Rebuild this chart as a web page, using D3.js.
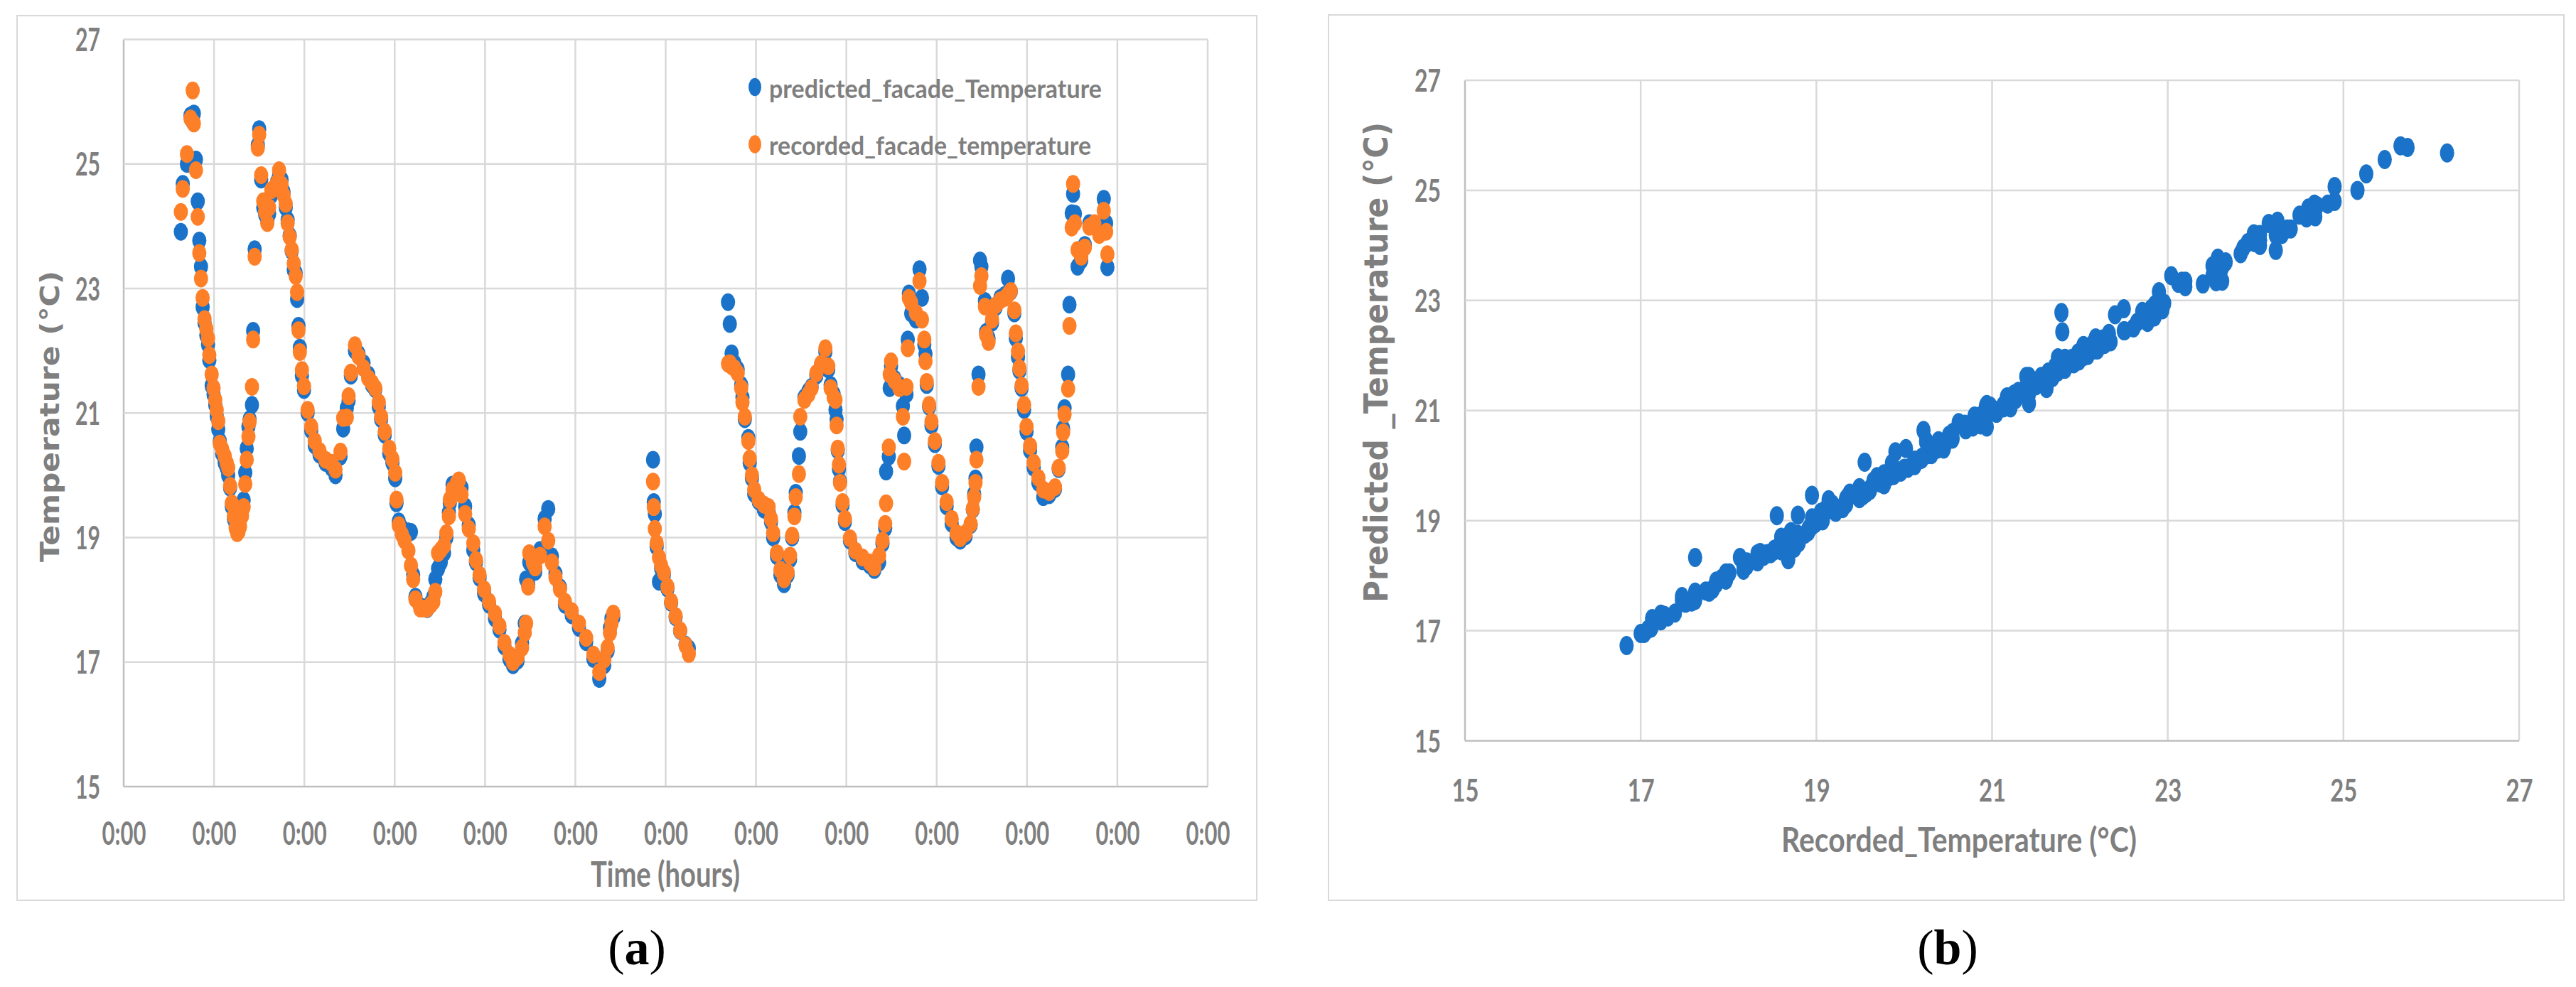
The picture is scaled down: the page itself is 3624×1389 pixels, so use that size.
<!DOCTYPE html>
<html>
<head>
<meta charset="utf-8">
<script src="https://cdn.jsdelivr.net/npm/d3@7"></script>
<style>
  body { margin: 0; background: #fff; }
  svg text { font-family: Lato, "Open Sans", sans-serif; fill: #7f7f7f; }
</style>
</head>
<body>
<svg id="chart" width="3624" height="1389"></svg>
<script>
/* facade temperature: time series (a) and predicted vs recorded scatter (b) */

// time of each reading, in days from the first midnight on the axis
const timeDays = [
  0.633, 0.654, 0.700, 0.740, 0.764, 0.777, 0.800, 0.820, 0.837, 0.856, 0.874, 0.895, 0.915, 0.934, 0.948, 0.974, 0.995,
  1.014, 1.030, 1.047, 1.064, 1.090, 1.118, 1.140, 1.157, 1.178, 1.197, 1.220, 1.240, 1.257, 1.272, 1.288, 1.310, 1.328,
  1.346, 1.362, 1.381, 1.394, 1.420, 1.433, 1.450, 1.485, 1.500, 1.522, 1.545, 1.566, 1.590, 1.610, 1.634, 1.670, 1.700,
  1.720, 1.747, 1.770, 1.794, 1.815, 1.838, 1.860, 1.883, 1.904, 1.920, 1.935, 1.950, 1.973, 1.996, 2.036, 2.076, 2.115,
  2.168, 2.234, 2.300, 2.345, 2.400, 2.430, 2.470, 2.490, 2.515, 2.560, 2.600, 2.655, 2.707, 2.750, 2.785, 2.824, 2.850,
  2.890, 2.940, 2.975, 3.006, 3.020, 3.045, 3.080, 3.110, 3.152, 3.180, 3.205, 3.230, 3.283, 3.320, 3.360, 3.400, 3.428,
  3.450, 3.480, 3.510, 3.546, 3.572, 3.600, 3.610, 3.640, 3.690, 3.710, 3.740, 3.780, 3.820, 3.870, 3.900, 3.940, 3.990,
  4.045, 4.110, 4.160, 4.215, 4.270, 4.310, 4.360, 4.410, 4.440, 4.455, 4.478, 4.490, 4.530, 4.556, 4.610, 4.660, 4.700,
  4.740, 4.780, 4.830, 4.885, 4.960, 5.040, 5.120, 5.200, 5.265, 5.320, 5.357, 5.383, 5.400, 5.420,
  5.860, 5.868, 5.880, 5.900, 5.926, 5.950, 5.980, 6.020, 6.060, 6.110, 6.160, 6.220, 6.256,
  6.690, 6.710, 6.730, 6.760, 6.797, 6.836, 6.850, 6.876, 6.915, 6.930, 6.955, 6.980, 7.030, 7.087, 7.140, 7.166, 7.190,
  7.232, 7.270, 7.310, 7.350, 7.377, 7.400, 7.425, 7.440, 7.475, 7.490, 7.536, 7.580, 7.615, 7.668, 7.720, 7.768, 7.800,
  7.826, 7.860, 7.880, 7.892, 7.905, 7.918, 7.930, 7.958, 7.984, 8.040, 8.100, 8.180, 8.260, 8.310, 8.363, 8.400, 8.430,
  8.440, 8.470, 8.480, 8.495, 8.534, 8.587, 8.626, 8.640, 8.666, 8.680, 8.692, 8.718, 8.770, 8.810, 8.837, 8.863, 8.876,
  8.890, 8.916, 8.942, 8.980, 9.020, 9.060, 9.110, 9.166, 9.220, 9.260, 9.320, 9.376, 9.400, 9.415, 9.430, 9.440, 9.463,
  9.480, 9.495, 9.534, 9.547, 9.574, 9.613, 9.653, 9.705, 9.758, 9.790, 9.820, 9.860, 9.876, 9.900, 9.916, 9.940, 9.968,
  9.995, 10.034, 10.074, 10.126, 10.180, 10.245, 10.310, 10.350, 10.390, 10.400, 10.416, 10.455, 10.470, 10.495, 10.510,
  10.530, 10.560, 10.600, 10.640, 10.690, 10.745, 10.800, 10.850, 10.876, 10.890
];

const recordedTemp = [
  24.23, 24.60, 25.16, 25.73, 26.18, 25.65, 24.90, 24.15, 23.57, 23.16, 22.85, 22.51, 22.35, 22.20, 21.93, 21.62, 21.40,
  21.21, 21.05, 20.87, 20.51, 20.42, 20.31, 20.20, 20.12, 19.83, 19.55, 19.34, 19.15, 19.07, 19.10, 19.18, 19.35, 19.49,
  19.86, 20.25, 20.62, 20.86, 21.42, 22.18, 23.51, 25.26, 25.47, 24.82, 24.40, 24.23, 24.05, 24.30, 24.58, 24.62, 24.70,
  24.90, 24.67, 24.50, 24.36, 24.05, 23.83, 23.62, 23.40, 23.20, 22.94, 22.33, 21.98, 21.69, 21.43, 21.05, 20.78, 20.55,
  20.39, 20.25, 20.20, 20.09, 20.38, 20.92, 20.93, 21.27, 21.65, 22.09, 21.91, 21.72, 21.56, 21.48, 21.40, 21.17, 20.94,
  20.70, 20.43, 20.26, 20.04, 19.61, 19.20, 19.05, 18.95, 18.79, 18.55, 18.33, 18.01, 17.86, 17.86, 17.86, 17.92, 17.97,
  18.13, 18.75, 18.80, 18.87, 19.07, 19.34, 19.61, 19.77, 19.88, 19.92, 19.69, 19.38, 19.14, 18.91, 18.64, 18.40, 18.17,
  17.97, 17.78, 17.58, 17.31, 17.12, 17.00, 17.08, 17.23, 17.47, 17.62, 18.21, 18.75, 18.60, 18.52, 18.71, 19.18, 18.95,
  18.60, 18.36, 18.17, 17.97, 17.82, 17.62, 17.39, 17.12, 16.84, 17.04, 17.23, 17.47, 17.62, 17.78,
  19.90, 19.49, 19.14, 18.91, 18.68, 18.55, 18.44, 18.21, 17.97, 17.74, 17.51, 17.27, 17.13,
  21.79, 21.80, 21.75, 21.72, 21.64, 21.40, 21.17, 20.94, 20.55, 20.27, 20.00, 19.77, 19.61, 19.53, 19.49, 19.30, 19.07,
  18.75, 18.48, 18.33, 18.44, 18.71, 19.03, 19.34, 19.65, 20.02, 20.94, 21.21, 21.30, 21.40, 21.64, 21.79, 22.04, 21.75,
  21.40, 21.25, 21.21, 20.80, 20.43, 20.17, 19.88, 19.57, 19.30, 18.99, 18.79, 18.68, 18.60, 18.52, 18.71, 18.95, 19.22,
  19.55, 20.45, 21.62, 21.83, 21.52, 21.40, 20.94, 20.22, 21.42, 22.04, 22.85, 22.77, 22.61, 23.12, 22.50, 22.18, 21.83,
  21.50, 21.13, 20.86, 20.55, 20.20, 19.88, 19.57, 19.30, 19.07, 18.99, 19.07, 19.22, 19.46, 19.65, 19.88, 20.25, 21.42,
  23.04, 23.20, 22.71, 22.26, 22.14, 22.50, 22.73, 22.81, 22.85, 22.90, 22.96, 22.65, 22.28, 21.99, 21.72, 21.44, 21.13,
  20.78, 20.47, 20.20, 19.96, 19.77, 19.73, 19.81, 20.12, 20.39, 20.69, 20.98, 21.39, 22.40, 23.98, 24.68,
  24.05, 23.62, 23.51, 23.66, 23.99, 24.05, 23.86, 24.25, 23.91, 23.55
];

const predictedTemp = [
  23.91, 24.68, 25.00, 25.78, 25.68, 25.81, 25.07, 24.40, 23.77, 23.35, 22.70, 22.45, 22.25, 22.10, 21.85, 21.44, 21.30,
  21.13, 20.95, 20.74, 20.55, 20.35, 20.20, 20.12, 20.00, 19.80, 19.50, 19.30, 19.20, 19.10, 19.20, 19.30, 19.42, 19.60,
  20.04, 20.43, 20.78, 20.90, 21.13, 22.32, 23.63, 25.30, 25.56, 24.75, 24.30, 24.19, 24.09, 24.20, 24.50, 24.60, 24.72,
  24.80, 24.75, 24.55, 24.30, 24.10, 23.85, 23.60, 23.30, 23.25, 22.83, 22.40, 22.05, 21.60, 21.37, 21.00, 20.72, 20.48,
  20.33, 20.20, 20.12, 20.00, 20.30, 20.75, 21.08, 21.20, 21.60, 22.00, 21.95, 21.80, 21.62, 21.45, 21.38, 21.10, 20.90,
  20.65, 20.35, 20.20, 19.95, 19.55, 19.26, 19.15, 19.05, 19.10, 19.09, 18.40, 18.05, 17.90, 17.88, 17.85, 17.95, 18.05,
  18.33, 18.50, 18.60, 18.75, 19.00, 19.40, 19.55, 19.85, 19.85, 19.90, 19.80, 19.50, 19.20, 18.80, 18.60, 18.35, 18.10,
  17.92, 17.70, 17.52, 17.25, 17.05, 16.95, 17.02, 17.30, 17.62, 18.33, 18.25, 18.60, 18.45, 18.45, 18.80, 19.30, 19.46,
  18.70, 18.42, 18.20, 17.92, 17.75, 17.55, 17.32, 17.05, 16.73, 16.95, 17.18, 17.55, 17.70, 17.72,
  20.25, 19.57, 19.38, 18.85, 18.29, 18.50, 18.40, 18.18, 17.95, 17.72, 17.50, 17.28, 17.22,
  22.78, 22.43, 21.96, 21.80, 21.70, 21.45, 21.25, 20.90, 20.60, 20.20, 19.95, 19.70, 19.58, 19.45, 19.40, 19.25, 19.00,
  18.70, 18.40, 18.25, 18.40, 18.65, 19.00, 19.40, 19.72, 20.31, 20.70, 21.25, 21.35, 21.42, 21.60, 21.75, 21.98, 21.70,
  21.45, 21.30, 21.05, 20.90, 20.40, 20.10, 19.90, 19.52, 19.25, 18.95, 18.75, 18.62, 18.55, 18.48, 18.60, 18.90, 19.15,
  20.06, 20.30, 21.40, 21.75, 21.55, 21.45, 21.11, 20.64, 21.30, 22.18, 22.92, 22.60, 22.50, 23.31, 22.85, 22.10, 21.95,
  21.45, 21.10, 20.80, 20.50, 20.15, 19.82, 19.50, 19.22, 19.00, 18.95, 19.02, 19.20, 19.45, 19.70, 19.95, 20.45, 21.62,
  23.45, 23.35, 22.80, 22.30, 22.20, 22.45, 22.70, 22.85, 22.90, 23.16, 22.95, 22.60, 22.20, 21.90, 21.68, 21.40, 21.05,
  20.70, 20.40, 20.12, 19.88, 19.65, 19.68, 19.78, 20.10, 20.45, 20.75, 21.08, 21.62, 22.74, 24.21, 24.52,
  24.20, 23.35, 23.45, 23.70, 24.05, 24.00, 23.95, 24.44, 24.05, 23.34
];

const tempTicks = [15, 17, 19, 21, 23, 25, 27];
const seriesNames = ["predicted_facade_Temperature", "recorded_facade_temperature"];
const seriesColors = ["#1a73c8", "#fd7f28"];
const dayCount = 12;

const svg = d3.select("#chart");
const rows = timeDays.map((t, i) => ({ t: t, pred: predictedTemp[i], rec: recordedTemp[i] }));
const dayStart = new Date(2020, 0, 1);
const toDate = t => new Date(dayStart.getTime() + t * 864e5);

function frame(x0, y0, x1, y1) {
  svg.append("rect")
    .attr("x", x0).attr("y", y0)
    .attr("width", x1 - x0).attr("height", y1 - y0)
    .attr("fill", "none").attr("stroke", "#d9d9d9").attr("stroke-width", 2);
}

function grid(g, xVals, yVals, x, y) {
  const [xl, xr] = x.range(), [yb, yt] = y.range();
  g.selectAll(".vg").data(xVals).join("line").attr("class", "vg")
    .attr("x1", d => x(d)).attr("x2", d => x(d)).attr("y1", yt).attr("y2", yb)
    .attr("stroke", (d, i) => i === 0 ? "#bfbfbf" : "#d9d9d9").attr("stroke-width", 2.5);
  g.selectAll(".hg").data(yVals).join("line").attr("class", "hg")
    .attr("x1", xl).attr("x2", xr).attr("y1", d => y(d)).attr("y2", d => y(d))
    .attr("stroke", (d, i) => i === 0 ? "#bfbfbf" : "#d9d9d9").attr("stroke-width", 2.5);
}

function styleAxis(g, size, width, dx, dy) {
  g.select(".domain").remove();
  g.selectAll(".tick line").remove();
  g.selectAll("text")
    .attr("fill", "#7f7f7f").attr("font-size", size).attr("font-weight", "bold")
    .attr("x", dx).attr("y", dy).attr("dy", "0.36em")
    .attr("textLength", width).attr("lengthAdjust", "spacingAndGlyphs");
  g.attr("font-family", null);
}

/* ---------- (a) time series ---------- */
frame(24, 22, 1768, 1267);

const xA = d3.scaleTime().domain([dayStart, d3.timeDay.offset(dayStart, dayCount)]).range([174, 1699]);
const yA = d3.scaleLinear().domain([15, 27]).range([1107, 55.5]);
const gA = svg.append("g");
grid(gA, xA.ticks(d3.timeDay.every(1)), tempTicks, xA, yA);

gA.append("g").attr("transform", "translate(174,0)")
  .call(d3.axisLeft(yA).tickValues(tempTicks).tickSize(0))
  .call(g => styleAxis(g, 45, 35, -33, 0))
  .selectAll("text").attr("text-anchor", "end");

gA.append("g").attr("transform", "translate(0,1107)")
  .call(d3.axisBottom(xA).ticks(d3.timeDay.every(1)).tickFormat(d3.timeFormat("%-H:%M")).tickSize(0))
  .call(g => styleAxis(g, 45, 62, 0, 66));

gA.append("g").selectAll("ellipse").data(rows).join("ellipse")
  .attr("cx", d => xA(toDate(d.t))).attr("cy", d => yA(d.pred))
  .attr("rx", 10).attr("ry", 12.5).attr("fill", seriesColors[0]);
gA.append("g").selectAll("ellipse").data(rows).join("ellipse")
  .attr("cx", d => xA(toDate(d.t))).attr("cy", d => yA(d.rec))
  .attr("rx", 10).attr("ry", 12.5).attr("fill", seriesColors[1]);

// legend
const leg = gA.append("g").selectAll("g").data(seriesNames).join("g")
  .attr("transform", (d, i) => "translate(1062," + (122.5 + i * 80.5) + ")");
leg.append("ellipse").attr("rx", 9).attr("ry", 12.8).attr("fill", (d, i) => seriesColors[i]);
leg.append("text").attr("x", 20).attr("y", 15).attr("font-size", 37).attr("font-weight", "bold")
  .attr("textLength", (d, i) => i === 0 ? 468 : 453).attr("lengthAdjust", "spacingAndGlyphs")
  .text(d => d);

gA.append("text").attr("x", 936).attr("y", 1248).attr("text-anchor", "middle")
  .attr("font-size", 50).attr("font-weight", "bold")
  .attr("textLength", 210).attr("lengthAdjust", "spacingAndGlyphs")
  .text("Time (hours)");

gA.append("text").attr("transform", "translate(83,586) rotate(-90)").attr("text-anchor", "middle")
  .style("font-family", "'DejaVu Sans', sans-serif").attr("font-size", 38).attr("font-weight", "bold")
  .attr("textLength", 410).attr("lengthAdjust", "spacingAndGlyphs")
  .text("Temperature (°C)");

/* ---------- (b) predicted vs recorded ---------- */
frame(1869, 21, 3607, 1267);

const xB = d3.scaleLinear().domain([15, 27]).range([2061, 3544]);
const yB = d3.scaleLinear().domain([15, 27]).range([1042.5, 113]);
const gB = svg.append("g");
grid(gB, tempTicks, tempTicks, xB, yB);

gB.append("g").attr("transform", "translate(2061,0)")
  .call(d3.axisLeft(yB).tickValues(tempTicks).tickSize(0))
  .call(g => styleAxis(g, 44, 37, -34, 0))
  .selectAll("text").attr("text-anchor", "end");

gB.append("g").attr("transform", "translate(0,1042.5)")
  .call(d3.axisBottom(xB).tickValues(tempTicks).tickSize(0))
  .call(g => styleAxis(g, 44, 38, 0, 69.5));

gB.append("g").selectAll("ellipse").data(rows).join("ellipse")
  .attr("cx", d => xB(d.rec)).attr("cy", d => yB(d.pred))
  .attr("rx", 10).attr("ry", 13.5).attr("fill", seriesColors[0]);

gB.append("text").attr("x", 2506).attr("y", 1199)
  .attr("font-size", 48).attr("font-weight", "bold")
  .attr("textLength", 500).attr("lengthAdjust", "spacingAndGlyphs")
  .text("Recorded_Temperature (°C)");

gB.append("text").attr("transform", "translate(1952,510) rotate(-90)").attr("text-anchor", "middle")
  .style("font-family", "'DejaVu Sans', sans-serif").attr("font-size", 46).attr("font-weight", "bold")
  .attr("textLength", 676).attr("lengthAdjust", "spacingAndGlyphs")
  .text("Predicted _Temperature (°C)");

/* ---------- panel captions ---------- */
[["a", 896, 1357], ["b", 2740, 1357]].forEach(([letter, cx, by]) => {
  const t = svg.append("text").attr("x", cx).attr("y", by).attr("text-anchor", "middle")
    .style("font-family", "'Liberation Serif', 'DejaVu Serif', serif").style("fill", "#000")
    .attr("font-size", 70);
  t.append("tspan").text("(");
  t.append("tspan").attr("font-weight", "bold").text(letter);
  t.append("tspan").text(")");
});
</script>
</body>
</html>
